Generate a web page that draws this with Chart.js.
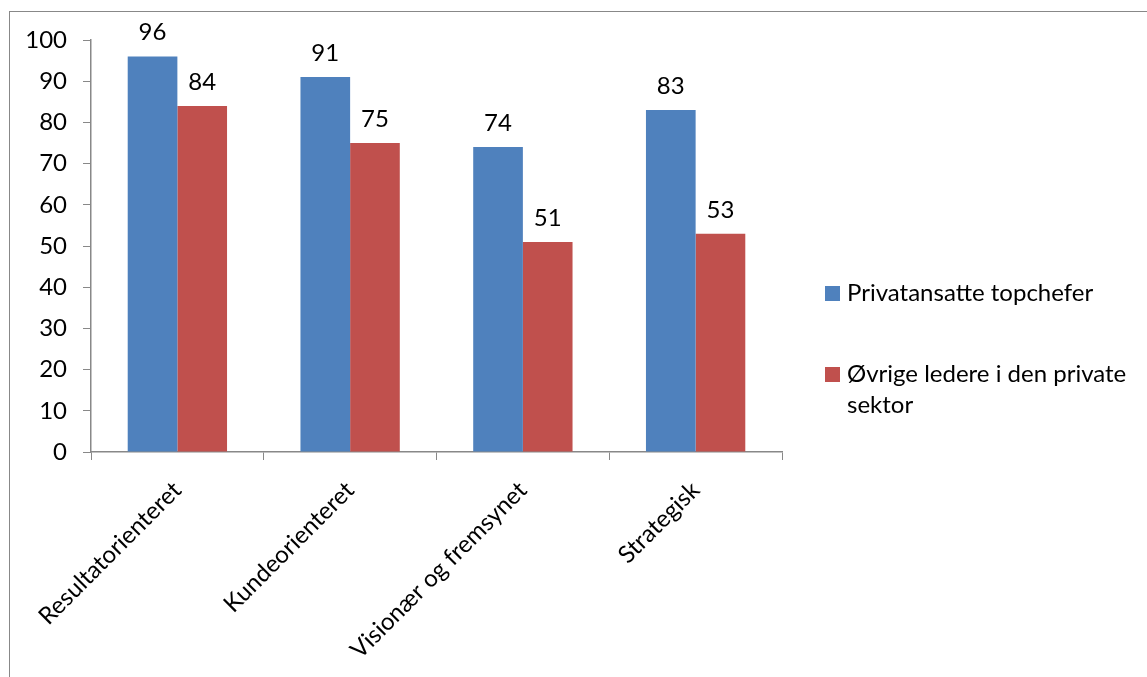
<!DOCTYPE html>
<html>
<head>
<meta charset="utf-8">
<script src="https://cdn.jsdelivr.net/npm/chart.js@4.4.1/dist/chart.umd.min.js"></script>
<style>
  html, body { margin: 0; padding: 0; background: #fff; }
  #wrap { position: relative; width: 1147px; height: 677px; overflow: hidden; }
  #frame { position: absolute; left: 9px; top: 11px; width: 1200px; height: 700px;
           border: 1.5px solid #888; box-sizing: border-box; }
  #chartBox { position: absolute; left: 0; top: 0; width: 1147px; height: 677px; }
  #legend { position: absolute; left: 825px; top: 276px; font-family: Lato, sans-serif;
            font-size: 24px; color: #000; }
  #legend .item { display: flex; align-items: flex-start; margin-bottom: 50px; }
  #legend .box { width: 15px; height: 15px; margin: 10px 7px 0 0; flex: none; }
  #legend .txt { width: 300px; line-height: 31px; margin-top: 0; }
</style>
</head>
<body>
<div id="wrap">
  <div id="frame"></div>
  <div id="chartBox"><canvas id="barChart"></canvas></div>
  <div id="legend"></div>
</div>
<script>
// Categories and the two series
const categories = ['Resultatorienteret', 'Kundeorienteret', 'Visionær og fremsynet', 'Strategisk'];
const topchefer = [96, 91, 74, 83];
const ovrige = [84, 75, 51, 53];
const seriesNames = ['Privatansatte topchefer', 'Øvrige ledere i den private sektor'];

Chart.defaults.font.family = 'Lato, sans-serif';
Chart.defaults.font.size = 24;
Chart.defaults.color = '#000';

// Writes each bar's value above it
const valueLabels = {
    id: 'valueLabels',
    afterDatasetsDraw(chart) {
        const ctx = chart.ctx;
        ctx.save();
        ctx.font = '24px Lato, sans-serif';
        ctx.fillStyle = '#000';
        ctx.textAlign = 'center';
        ctx.textBaseline = 'alphabetic';
        chart.data.datasets.forEach((ds, i) => {
            chart.getDatasetMeta(i).data.forEach((bar, j) => {
                ctx.fillText(ds.data[j], bar.x, bar.y - 16);
            });
        });
        ctx.restore();
    }
};

// Legend built as html so the long name can wrap onto two lines
const htmlLegend = {
    id: 'htmlLegend',
    afterUpdate(chart) {
        const box = document.getElementById('legend');
        box.innerHTML = '';
        chart.data.datasets.forEach(ds => {
            const item = document.createElement('div');
            item.className = 'item';
            const sw = document.createElement('span');
            sw.className = 'box';
            sw.style.background = ds.backgroundColor;
            const txt = document.createElement('span');
            txt.className = 'txt';
            txt.textContent = ds.label;
            item.appendChild(sw);
            item.appendChild(txt);
            box.appendChild(item);
        });
    }
};

new Chart(document.getElementById('barChart'), {
    type: 'bar',
    data: {
        labels: categories,
        datasets: [
            { label: seriesNames[0], data: topchefer, backgroundColor: '#4F81BD' },
            { label: seriesNames[1], data: ovrige, backgroundColor: '#C0504D' }
        ]
    },
    options: {
        responsive: true,
        maintainAspectRatio: false,
        animation: false,
        categoryPercentage: 0.575,
        barPercentage: 1.0,
        layout: { padding: { left: 0, top: 40, right: 365, bottom: 0 } },
        plugins: {
            legend: { display: false },
            tooltip: { enabled: false }
        },
        scales: {
            x: {
                grid: { offset: true, drawOnChartArea: false, tickLength: 8, color: '#888' },
                border: { color: '#888', width: 1.5 },
                ticks: { autoSkip: false, minRotation: 45, maxRotation: 45, padding: 16, labelOffset: 0 },
                afterFit(scale) { scale.height = 225; }
            },
            y: {
                min: 0,
                max: 100,
                grid: { drawOnChartArea: false, tickLength: 8, color: '#888' },
                border: { color: '#888', width: 1.5 },
                ticks: { stepSize: 10, padding: 16 },
                afterFit(scale) { scale.width = 91; }
            }
        }
    },
    plugins: [valueLabels, htmlLegend]
});
</script>
</body>
</html>
